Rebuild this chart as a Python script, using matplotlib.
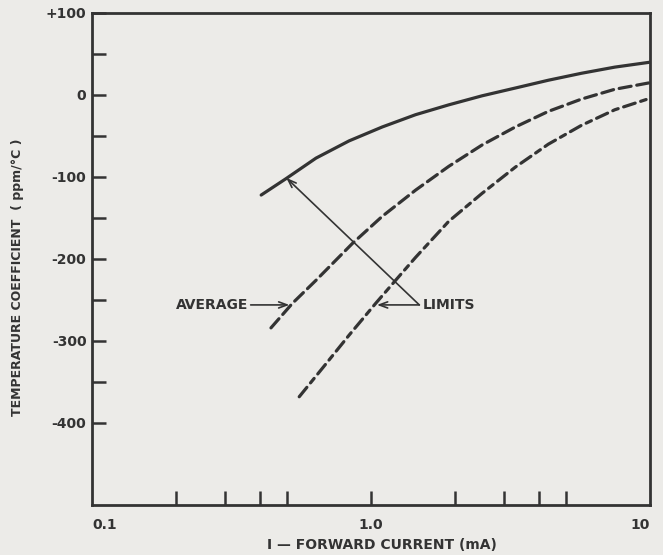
import matplotlib.pyplot as plt

# forward current (mA) vs temperature coefficient (ppm/°C)
upper_i = [0.404, 0.496, 0.635, 0.834, 1.097, 1.445, 1.90, 2.50, 3.29, 4.32, 5.68, 7.48, 10.0]
upper_tc = [-122, -102, -77, -56, -39, -24, -12, -1, 8.5, 18, 26.5, 34, 40]

avg_i = [0.438, 0.523, 0.635, 0.858, 1.097, 1.445, 1.90, 2.50, 3.29, 4.32, 5.68, 7.48, 10.0]
avg_tc = [-284, -254, -226, -181, -148, -116, -87, -61, -39, -20, -5, 7, 15]

lower_i = [0.553, 0.689, 0.834, 1.04, 1.225, 1.445, 1.90, 2.50, 3.29, 4.32, 5.68, 7.48, 10.0]
lower_tc = [-368, -328, -293, -254, -226, -198, -154, -120, -88, -60, -37, -18, -4]

y_ticks = [100, 50, 0, -50, -100, -150, -200, -250, -300, -350, -400]
y_labels = {100: "+100", 0: "0", -100: "-100", -200: "-200", -300: "-300", -400: "-400"}
x_ticks = [0.2, 0.3, 0.4, 0.5, 1.0, 2, 3, 4, 5]
x_labels = {0.1: "0.1", 1.0: "1.0", 10: "10"}

INK = "#333333"
PAPER = "#ecebe8"

plt.rcParams.update({
    "font.family": "DejaVu Sans",
    "font.size": 10,
    "font.weight": "bold",
    "text.color": INK,
    "xtick.color": INK,
    "ytick.color": INK,
})

fig = plt.figure(figsize=(6.63, 5.55), dpi=100, facecolor=PAPER)
ax = fig.add_axes([92 / 663, 50 / 555, 558 / 663, 492 / 555], facecolor=PAPER)

ax.plot(upper_i, upper_tc, color=INK, lw=2.3, solid_capstyle="round",
        solid_joinstyle="round")
ax.plot(avg_i, avg_tc, color=INK, lw=2.3, dashes=(3.8, 1.8), dash_capstyle="round")
ax.plot(lower_i, lower_tc, color=INK, lw=2.3, dashes=(3.8, 1.8, 1.8, 1.8),
        dash_capstyle="round")

ax.set_xscale("log")
ax.set_xlim(0.1, 10)
ax.set_ylim(-500, 100)

for s in ax.spines.values():
    s.set_color(INK)
    s.set_linewidth(2)

ax.xaxis.set_major_locator(plt.FixedLocator(x_ticks))
ax.xaxis.set_minor_locator(plt.NullLocator())
ax.set_xticklabels([])
ax.tick_params(axis="x", direction="in", length=10, width=1.8)
for v, lab in x_labels.items():
    ha = {0.1: "left", 10: "right"}.get(v, "center")
    ax.text(v, -0.041, lab, transform=ax.get_xaxis_transform(), ha=ha,
            va="center", fontsize=10)

ax.set_yticks(y_ticks)
ax.set_yticklabels([y_labels.get(t, "") for t in y_ticks], fontsize=10)
ax.tick_params(axis="y", direction="in", length=10, width=1.8, pad=4)
ax.yaxis.set_minor_locator(plt.NullLocator())

ax.text(0.52, -0.081, "I \u2014 FORWARD CURRENT (mA)", transform=ax.transAxes,
        ha="center", va="center", fontsize=10)
fig.text(18 / 663, 1 - 277 / 555, "TEMPERATURE COEFFICIENT  ( ppm/\u00b0C )",
         rotation=90, ha="center", va="center", fontsize=9)

# annotations
arrow = dict(arrowstyle="->,head_length=0.6,head_width=0.22", color=INK, lw=1.2,
             shrinkA=0, shrinkB=0)
ax.annotate("AVERAGE", xy=(0.51, -256), xytext=(0.362, -256), ha="right",
            va="center", fontsize=10, arrowprops=arrow)
ax.annotate("", xy=(1.05, -256), xytext=(1.49, -256), arrowprops=arrow)
ax.annotate("", xy=(0.497, -101), xytext=(1.49, -256), arrowprops=arrow)
ax.text(1.53, -256, "LIMITS", ha="left", va="center", fontsize=10)

fig.savefig("out.png", dpi=100, facecolor=PAPER)
